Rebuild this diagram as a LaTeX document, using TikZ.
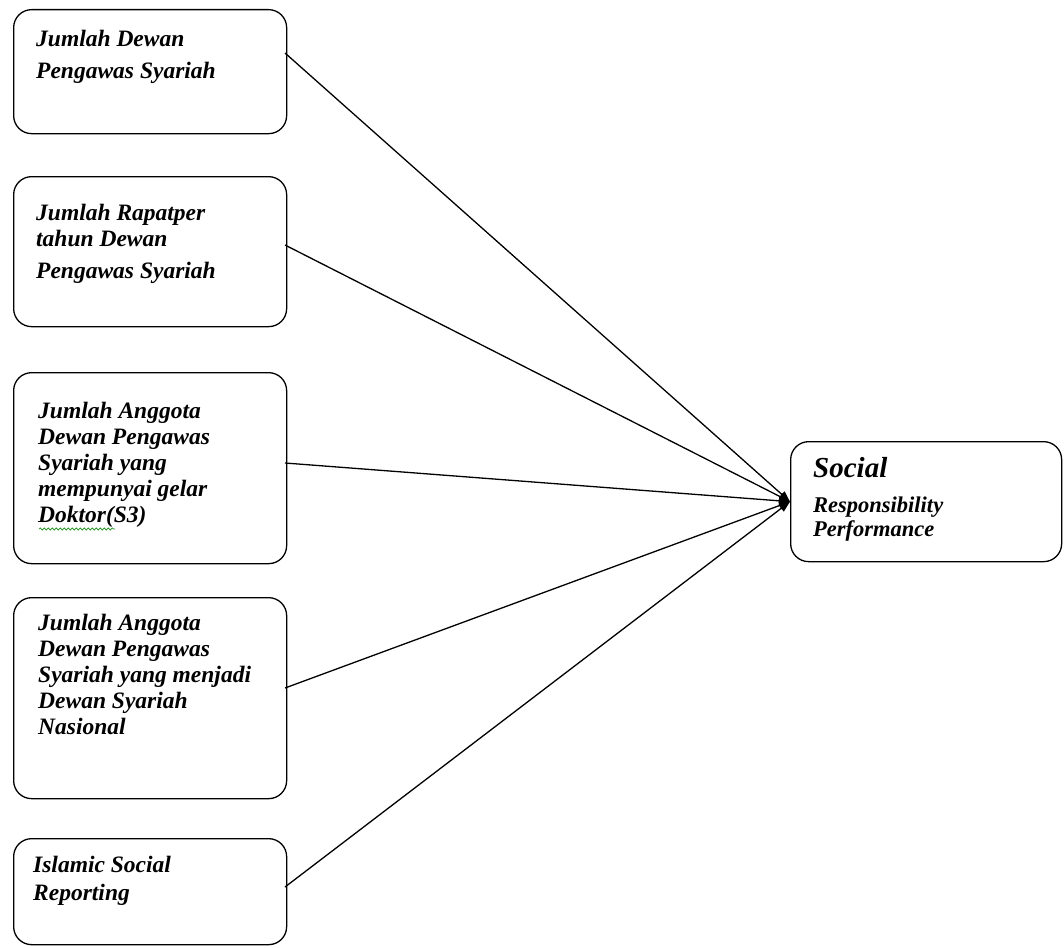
\documentclass[tikz,border=0pt]{standalone}
\usepackage{fontspec}
\setmainfont{Liberation Serif}
\usetikzlibrary{arrows.meta,decorations.pathmorphing}
\begin{document}
\begin{tikzpicture}[x=1pt,y=-1pt,
  box/.style={draw, line width=1.3pt, rounded corners=18pt, anchor=north west, inner sep=0pt, minimum width=273pt},
  lbl/.style={anchor=north west, align=left, inner sep=0pt, font=\fontsize{23.5}{26}\selectfont\bfseries\itshape},
  conn/.style={line width=1.3pt, -{Triangle[length=11pt,width=8pt]}}]
\useasboundingbox[fill=white] (0,0) rectangle (1064,947);

% boxes
\node[box, minimum height=124pt] (b1) at (13,9) {};
\node[box, minimum height=150pt] (b2) at (13,176) {};
\node[box, minimum height=191pt] (b3) at (13,372) {};
\node[box, minimum height=201pt] (b4) at (13,597) {};
\node[box, minimum height=106pt] (b5) at (13,838) {};
\node[box, minimum width=271pt, minimum height=120pt] (t) at (790,441) {};

% labels
\node[lbl] (l1) at (36,30) {Jumlah Dewan\\[6pt]Pengawas Syariah};
\node[lbl] (l2) at (36,204) {Jumlah Rapatper\\tahun Dewan\\[6pt]Pengawas Syariah};
\node[lbl] (l3) at (38,402) {Jumlah Anggota\\Dewan Pengawas\\Syariah yang\\mempunyai gelar\\Doktor(S3)};
\node[lbl] (l4) at (38,614) {Jumlah Anggota\\Dewan Pengawas\\Syariah yang menjadi\\Dewan Syariah\\Nasional};
\node[lbl, font=\fontsize{23.5}{28}\selectfont\bfseries\itshape] (l5) at (33,856) {Islamic Social\\Reporting};
\node[anchor=base west, inner sep=0pt, font=\fontsize{29}{32}\selectfont\bfseries\itshape] (ls) at (813,477) {Social};
\node[lbl, font=\fontsize{22.5}{24}\selectfont\bfseries\itshape] (lt) at (813,497) {Responsibility\\Performance};

% spell-check underline
\draw[green!50!black!80, line width=0.8pt, decorate, decoration={snake, segment length=4pt, amplitude=1pt}] (39,529) -- (115,529);

% connector start points
\coordinate (s1) at (285,53);
\coordinate (s2) at (285,245);
\coordinate (s3) at (285,463);
\coordinate (s4) at (285,688);
\coordinate (s5) at (285,887);

\foreach \s in {s1,s2,s3,s4,s5}
  \draw[conn] (\s) -- (t.west);
\end{tikzpicture}
\end{document}
